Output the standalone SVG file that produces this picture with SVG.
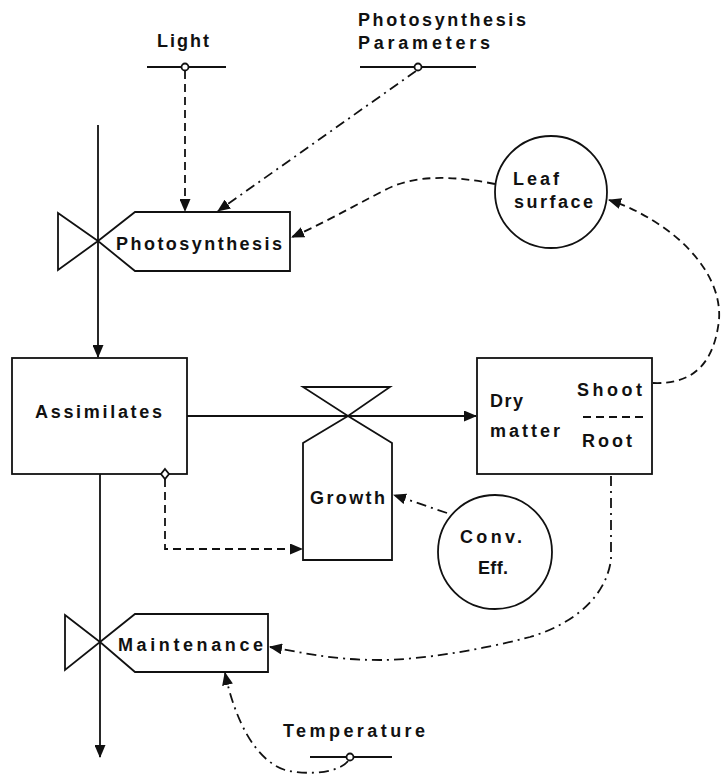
<svg xmlns="http://www.w3.org/2000/svg" width="721" height="775" viewBox="0 0 721 775">
<defs>
<marker id="ah" markerUnits="userSpaceOnUse" markerWidth="13" markerHeight="11" refX="12" refY="5.5" orient="auto">
<path d="M0,0 L13,5.5 L0,11 Z" fill="#111"/>
</marker>
<style>
.s{fill:#fff;stroke:#111;stroke-width:1.8}
.ln{fill:none;stroke:#111;stroke-width:1.8}
.d{fill:none;stroke:#111;stroke-width:1.8;stroke-dasharray:8,5}
.dd{fill:none;stroke:#111;stroke-width:1.8;stroke-dasharray:10,5,2,5}
text{font-family:"Liberation Sans",Arial,sans-serif;font-weight:bold;font-size:18px;fill:#111}
</style>
</defs>
<rect width="721" height="775" fill="#fff"/>

<g id="flows">
<path class="ln" d="M98,125 L98,357" marker-end="url(#ah)"/>
<path class="ln" d="M100,474 L100,757" marker-end="url(#ah)"/>
<path class="ln" d="M187,416 L476,416" marker-end="url(#ah)"/>
</g>

<g id="light">
<text x="157" y="47" textLength="52" lengthAdjust="spacing">Light</text>
<line class="ln" x1="147" y1="67" x2="226" y2="67"/>
<circle class="s" cx="185" cy="67" r="3.5"/>
</g>

<g id="params">
<text x="358" y="26" textLength="168" lengthAdjust="spacing">Photosynthesis</text>
<text x="358" y="49" textLength="132" lengthAdjust="spacing">Parameters</text>
<line class="ln" x1="360" y1="67" x2="476" y2="67"/>
<circle class="s" cx="418" cy="67" r="3.5"/>
</g>

<g id="photosynthesis">
<polygon class="s" points="58,213 98,241 58,270"/>
<polygon class="s" points="98,241 135,212 290,212 290,271 135,271"/>
<text x="116" y="250" textLength="166" lengthAdjust="spacing">Photosynthesis</text>
</g>

<g id="leaf">
<circle class="s" cx="551" cy="192" r="56"/>
<text x="513" y="185" textLength="46" lengthAdjust="spacing">Leaf</text>
<text x="514" y="208" textLength="79" lengthAdjust="spacing">surface</text>
</g>

<g id="assimilates">
<rect class="s" x="12" y="358" width="175" height="116"/>
<text x="35" y="418" textLength="127" lengthAdjust="spacing">Assimilates</text>
<path class="s" d="M165,469 L169,474 L165,479 L161,474 Z"/>
</g>

<g id="growth">
<polygon class="s" points="303,387 390,387 348,416"/>
<polygon class="s" points="348,416 392,443 392,560 303,560 303,443"/>
<text x="310" y="504" textLength="75" lengthAdjust="spacing">Growth</text>
</g>

<g id="drymatter">
<rect class="s" x="477" y="358" width="175" height="116"/>
<text x="490" y="407" textLength="33" lengthAdjust="spacing">Dry</text>
<text x="490" y="437" textLength="70" lengthAdjust="spacing">matter</text>
<text x="577" y="396" textLength="65" lengthAdjust="spacing">Shoot</text>
<line class="d" x1="583" y1="417" x2="646" y2="417"/>
<text x="582" y="447" textLength="50" lengthAdjust="spacing">Root</text>
</g>

<g id="conveff">
<circle class="s" cx="495" cy="552" r="57"/>
<text x="460" y="543" textLength="62" lengthAdjust="spacing">Conv.</text>
<text x="478" y="574" textLength="30" lengthAdjust="spacing">Eff.</text>
</g>

<g id="maintenance">
<polygon class="s" points="65,615 100,642 65,670"/>
<polygon class="s" points="100,642 135,614 268,614 268,672 135,672"/>
<text x="118" y="651" textLength="145" lengthAdjust="spacing">Maintenance</text>
</g>

<g id="temperature">
<text x="283" y="737" textLength="142" lengthAdjust="spacing">Temperature</text>
<line class="ln" x1="310" y1="757" x2="392" y2="757"/>
<circle class="s" cx="350" cy="757" r="3.5"/>
</g>

<g id="connectors">
<path class="d" d="M185,71 L185,211" marker-end="url(#ah)"/>
<path class="dd" d="M416,71 L218,211" marker-end="url(#ah)"/>
<path class="d" d="M495,184 C455,176 415,174 385,190 C350,208 320,225 292,237" marker-end="url(#ah)"/>
<path class="d" d="M653,383 C700,385 715,355 719,320 C722,280 690,245 660,225 C640,212 625,205 609,200" marker-end="url(#ah)"/>
<path class="d" d="M165,479 L165,549 L302,549" marker-end="url(#ah)"/>
<path class="dd" d="M447,513 L394,495" marker-end="url(#ah)"/>
<path class="dd" d="M611,476 L611,560 C605,600 570,625 530,637 C480,650 420,660 380,660 C330,660 300,652 270,647" marker-end="url(#ah)"/>
<path class="dd" d="M348,761 C340,772 310,776 285,770 C255,760 235,720 225,673" marker-end="url(#ah)"/>
</g>
</svg>
